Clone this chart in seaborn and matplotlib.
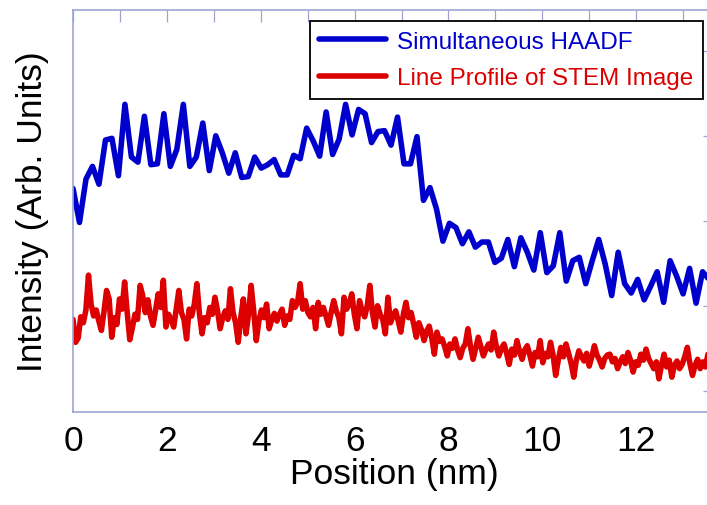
import numpy as np
import matplotlib
matplotlib.use("Agg")
import matplotlib.pyplot as plt
import seaborn as sns

# HAADF intensity, sampled on a regular grid along the scan line
blue_step = 0.1383  # nm between samples
blue_values = [
    2.38, 1.98, 2.49, 2.64, 2.43, 2.95, 2.97, 2.53, 3.37, 2.75,
    2.69, 3.23, 2.66, 2.67, 3.26, 2.64, 2.84, 3.37, 2.64, 2.75,
    3.15, 2.59, 3.00, 2.80, 2.56, 2.80, 2.51, 2.52, 2.75, 2.62,
    2.66, 2.72, 2.54, 2.54, 2.77, 2.73, 3.09, 2.94, 2.76, 3.28,
    2.78, 2.96, 3.37, 3.01, 3.31, 3.26, 2.92, 3.05, 3.06, 2.89,
    3.22, 2.67, 2.67, 2.99, 2.24, 2.39, 2.14, 1.76, 1.97, 1.92,
    1.73, 1.87, 1.69, 1.75, 1.75, 1.51, 1.56, 1.78, 1.46, 1.80,
    1.63, 1.42, 1.86, 1.39, 1.47, 1.86, 1.29, 1.53, 1.57, 1.26,
    1.53, 1.78, 1.49, 1.12, 1.63, 1.26, 1.15, 1.31, 1.07, 1.23,
    1.40, 1.04, 1.53, 1.35, 1.14, 1.44, 1.03, 1.40, 1.31,
]
blue_pos = np.arange(len(blue_values)) * blue_step

# Line profile taken from the STEM image, finer sampling
red_step = 0.055  # nm between samples
red_values = [
    0.84, 0.57, 0.62, 0.87, 0.80, 0.95, 1.36, 1.02, 0.88, 0.95,
    0.82, 0.71, 0.93, 1.18, 1.08, 0.63, 0.86, 0.78, 1.08, 0.96,
    1.28, 0.92, 0.60, 0.74, 0.90, 0.84, 1.24, 1.12, 0.92, 1.07,
    0.88, 0.77, 0.95, 1.14, 0.98, 1.30, 0.75, 0.90, 0.84, 0.75,
    0.96, 1.18, 0.92, 0.84, 0.61, 0.96, 0.88, 1.02, 1.26, 0.90,
    0.67, 0.86, 0.80, 0.98, 0.90, 1.10, 0.94, 0.73, 0.86, 0.94,
    0.84, 1.20, 0.92, 0.80, 0.57, 0.86, 1.08, 0.67, 0.90, 1.24,
    0.94, 0.59, 0.82, 0.95, 0.86, 1.02, 0.73, 0.84, 0.91, 0.82,
    0.90, 0.96, 0.77, 0.88, 0.84, 1.06, 0.98, 1.04, 1.26, 0.96,
    1.06, 0.92, 0.87, 0.98, 0.73, 1.04, 0.90, 0.98, 0.88, 0.77,
    0.92, 1.06, 0.94, 0.86, 0.67, 1.10, 0.96, 1.02, 1.14, 0.90,
    0.73, 1.06, 0.94, 0.87, 1.00, 1.24, 0.92, 0.75, 1.00, 0.90,
    0.84, 0.67, 1.10, 0.80, 0.88, 0.94, 0.82, 0.69, 0.90, 1.04,
    0.86, 0.92, 0.78, 0.63, 0.80, 0.72, 0.59, 0.70, 0.76, 0.62,
    0.43, 0.69, 0.58, 0.61, 0.52, 0.41, 0.55, 0.50, 0.61, 0.48,
    0.39, 0.50, 0.55, 0.73, 0.52, 0.37, 0.50, 0.63, 0.52, 0.41,
    0.49, 0.55, 0.48, 0.69, 0.52, 0.41, 0.50, 0.55, 0.44, 0.31,
    0.49, 0.42, 0.59, 0.46, 0.37, 0.48, 0.53, 0.42, 0.29, 0.45,
    0.40, 0.59, 0.33, 0.44, 0.40, 0.57, 0.42, 0.18, 0.36, 0.51,
    0.40, 0.55, 0.44, 0.32, 0.16, 0.36, 0.47, 0.40, 0.35, 0.44,
    0.29, 0.40, 0.53, 0.42, 0.36, 0.28, 0.38, 0.42, 0.43, 0.34,
    0.38, 0.26, 0.34, 0.40, 0.32, 0.45, 0.36, 0.22, 0.34, 0.30,
    0.43, 0.36, 0.49, 0.38, 0.32, 0.26, 0.34, 0.14, 0.30, 0.43,
    0.28, 0.36, 0.16, 0.30, 0.35, 0.26, 0.31, 0.40, 0.51, 0.32,
    0.18, 0.30, 0.37, 0.26, 0.34, 0.28, 0.43, 0.36, 0.30,
]
red_pos = np.arange(len(red_values)) * red_step

series_labels = ["Simultaneous HAADF", "Line Profile of STEM Image"]
x_ticks = [0, 2, 4, 6, 8, 10, 12]
y_ticks = [0, 1, 2, 3, 4]

BLUE = "#0000cc"
RED = "#dd0000"
FRAME = "#9ea4d2"

sns.set_theme(style="white")
plt.rcParams["font.family"] = ["Liberation Sans", "DejaVu Sans"]

W, H = 707, 506
fig = plt.figure(figsize=(W / 100, H / 100), dpi=100)
ax = fig.add_axes([73 / W, 1 - 413 / H, (715 - 73) / W, (413 - 11) / H])

sns.lineplot(x=blue_pos, y=blue_values, ax=ax, color=BLUE, lw=4.0,
             label=series_labels[0], estimator=None, sort=False)
sns.lineplot(x=red_pos, y=red_values, ax=ax, color=RED, lw=4.0,
             label=series_labels[1], estimator=None, sort=False)

ax.set_xlim(0, 13.68)
ax.set_ylim(-0.25, 4.48)
ax.set_xticks(x_ticks)
ax.set_xticks(np.arange(0, 14), minor=True)
ax.set_yticks(y_ticks)
ax.tick_params(which="both", direction="in", top=True, right=True,
               length=8.5, width=0.9, color=FRAME, labelsize=25.5,
               pad=9, labelcolor="black")
ax.tick_params(axis="y", labelleft=False)
for sp in ax.spines.values():
    sp.set_color(FRAME)
    sp.set_linewidth(1.2)

ax.set_xlabel("Position (nm)", fontsize=25.5, labelpad=0, color="black")
ax.set_ylabel("Intensity (Arb. Units)", fontsize=25.5, labelpad=17, color="black")

leg = ax.legend(loc="upper right", bbox_to_anchor=(703 / W, 1 - 22 / H),
                bbox_transform=fig.transFigure, borderaxespad=0,
                fontsize=17.5, handlelength=2.75, handletextpad=0.45,
                borderpad=0.4, labelspacing=0.6, frameon=True,
                fancybox=False, edgecolor="black", framealpha=1,
                labelcolor="linecolor")
leg.get_frame().set_linewidth(1.3)

fig.savefig("out.png", dpi=100)
